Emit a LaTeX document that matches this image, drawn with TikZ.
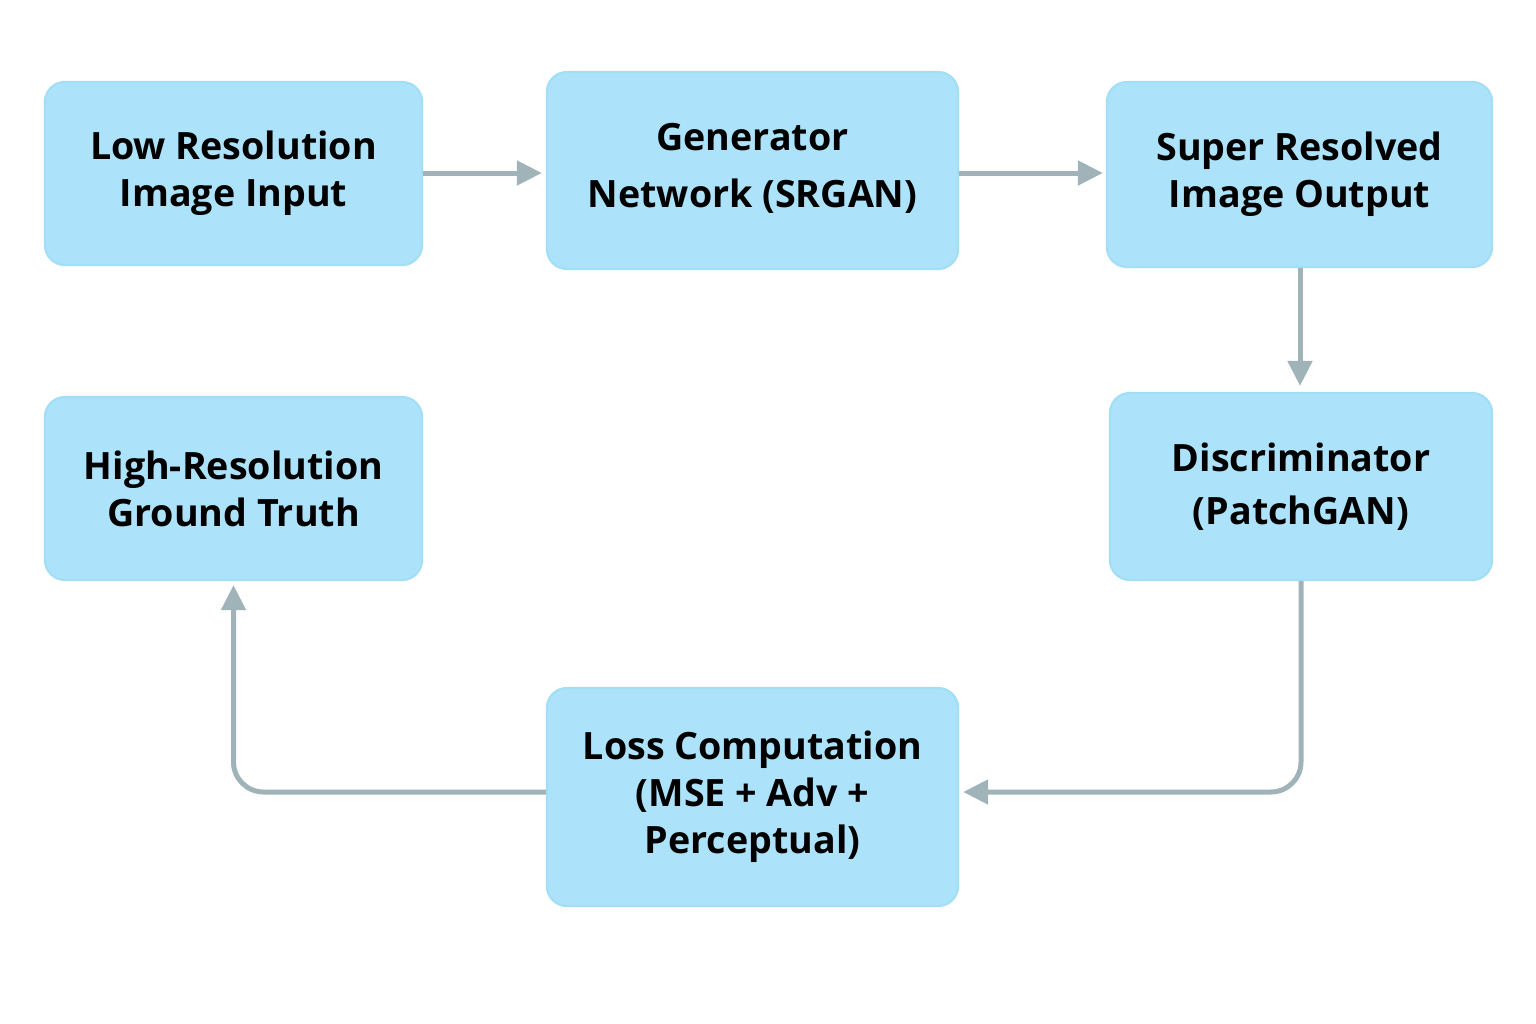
\documentclass[tikz,border=0pt]{standalone}
\usepackage{fontspec}
\setmainfont{Open Sans}
\usetikzlibrary{arrows.meta, positioning}
\definecolor{boxfill}{HTML}{ACE3FA}
\definecolor{boxedge}{HTML}{A3DEF7}
\definecolor{linkgrey}{HTML}{9FB3B9}
\tikzset{> = { Triangle[length = 0.25cm, width = 0.24cm] }}
\tikzset{
	stage/.style = { draw = boxedge, line width = 0.6pt, fill = boxfill, rounded corners = 0.2cm, align = center,
		font = \fontsize{10.7}{13.4}\selectfont\bfseries, inner sep = 0pt },
	link/.style = { ->, draw = linkgrey, line width = 0.05cm, rounded corners = 0.3cm }
}

\begin{document}
\begin{tikzpicture}[x = 0.01cm, y = -0.01cm]
		\useasboundingbox (0, 0) rectangle (1536, 1024);
		\node [stage, minimum width = 3.77cm, minimum height = 1.83cm] (lowres) at (233.5, 173.5) {Low Resolution\\Image Input};
		\node [stage, minimum width = 4.11cm, minimum height = 1.97cm, text depth = 0.1cm] (generator) at (752.5, 170.5) {Generator\\[0.1cm]Network (SRGAN)};
		\node [stage, minimum width = 3.85cm, minimum height = 1.85cm] (superres) at (1299.5, 174.5) {Super Resolved\\Image Output};
		\node [stage, minimum width = 3.77cm, minimum height = 1.83cm] (hrtruth) at (233.5, 488.5) {High-Resolution\\Ground Truth};
		\node [stage, minimum width = 3.82cm, minimum height = 1.87cm] (discrim) at (1301, 486.5) {Discriminator\\[0.06cm](PatchGAN)};
		\node [stage, minimum width = 4.11cm, minimum height = 2.18cm] (loss) at (752.5, 797) {Loss Computation\\(MSE + Adv +\\Perceptual)};

		\coordinate (turnA) at (1301, 792);
		\coordinate (turnB) at (233.5, 792);
		\draw [link] (lowres.east |- 0, 173) -- ([xshift = -0.04cm] generator.west |- 0, 173);
		\draw [link] (generator.east |- 0, 173) -- ([xshift = -0.03cm] superres.west |- 0, 173);
		\draw [link] (superres.south -| 1300, 0) -- ([yshift = 0.06cm] discrim.north -| 1300, 0);
		\draw [link] (discrim.south) -- (turnA) -- ([xshift = 0.04cm] loss.east |- turnA);
		\draw [link] (loss.west |- turnB) -- (turnB) -- ([yshift = -0.04cm] hrtruth.south);
	\end{tikzpicture}
\end{document}
